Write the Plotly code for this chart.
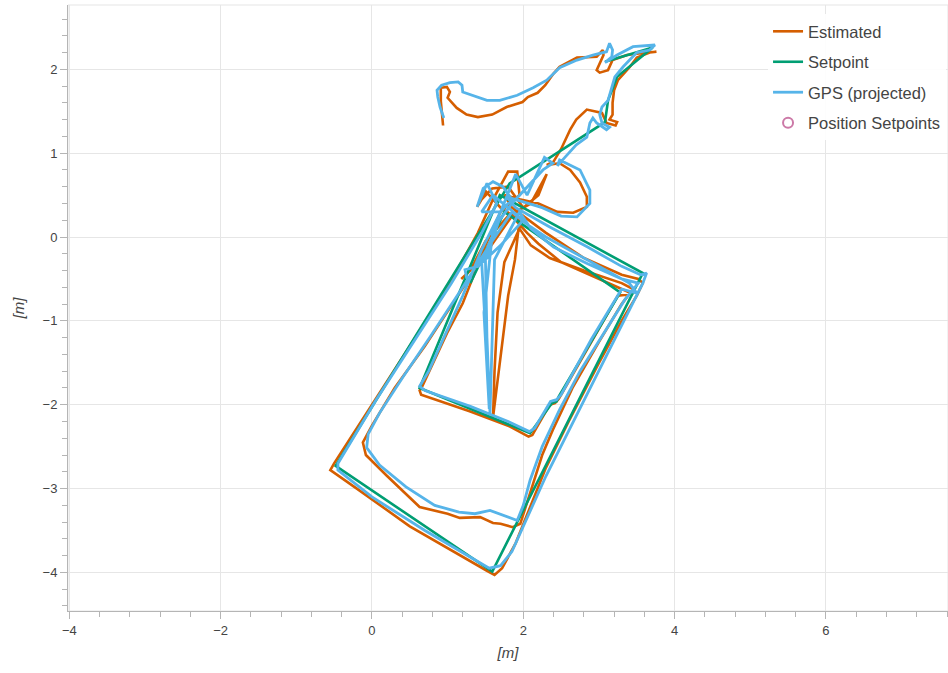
import plotly.graph_objects as go

# ---------------- data (metres) ----------------
est_x = [0.94, 0.93, 0.91, 0.91, 0.99, 1.03, 1.00, 1.12, 1.25, 1.40, 1.59, 1.78, 1.99, 2.06, 2.19, 2.29, 2.40, 2.48,
         2.71, 2.97, 3.05, 3.06, 3.01, 2.97, 3.01, 3.12, 3.18, 3.37, 3.63, 3.76, 3.67, 3.50, 3.41, 3.34, 3.25, 3.20,
         3.18, 3.18, 3.14, 3.24, 3.22, 3.10, 3.04, 2.84, 2.70, 2.62, 2.50, 2.40,
         2.31, 2.48, 2.62, 2.75, 2.84, 2.84, 2.66, 2.45, 2.20, 1.95, 1.75,
         1.85, 2.30, 2.80, 3.30, 3.52, 3.58, 3.50, 3.30, 3.00, 2.60, 2.30, 2.10, 1.90, 1.72, 1.62, 1.52, 0.50, -0.20,
         -0.55, -0.50, 0.00, 0.50, 1.00, 1.40, 1.60, 1.80, 1.92, 1.95,
         1.70, 1.50, 1.20, 0.99, 0.77, 0.66, 0.63, 0.65, 1.30, 1.80, 2.07, 2.12, 2.35, 2.42, 2.47, 2.90, 3.25, 3.45,
         3.30, 3.00, 2.50, 2.20, 2.05, 1.85,
         1.50, 1.10, 0.70, 0.30, 0.00, -0.12, -0.08, 0.20, 0.63, 1.00, 1.16, 1.43, 1.60, 1.70, 1.86, 1.96, 2.00, 2.13,
         2.25, 2.39, 2.65, 3.00, 3.30, 3.45, 3.30, 2.80, 2.35, 2.10, 1.95,
         1.75, 1.66, 1.62, 1.60, 1.70, 1.80, 1.89, 1.95,
         1.70, 1.50, 1.39, 1.45, 1.59, 1.80, 2.00, 2.20, 2.31, 2.10, 1.80, 1.50, 1.30, 1.18]
est_y = [1.33, 1.45, 1.62, 1.78, 1.79, 1.73, 1.66, 1.54, 1.46, 1.43, 1.46, 1.55, 1.61, 1.67, 1.72, 1.81, 1.95, 2.03,
         2.14, 2.15, 2.23, 2.17, 2.08, 1.99, 1.96, 1.99, 2.11, 2.17, 2.20, 2.21, 2.20, 2.14, 2.03, 1.96, 1.87, 1.75,
         1.60, 1.46, 1.40, 1.37, 1.33, 1.36, 1.48, 1.52, 1.40, 1.28, 1.05, 0.90,
         0.86, 0.88, 0.80, 0.65, 0.48, 0.36, 0.29, 0.30, 0.40, 0.45, 0.50,
         0.35, 0.05, -0.25, -0.45, -0.50, -0.55, -0.70, -1.00, -1.50, -2.20, -2.75, -3.20, -3.65, -3.95, -4.03, -3.98,
         -3.45, -3.00, -2.78, -2.70, -2.00, -1.30, -0.60, 0.05, 0.45, 0.78, 0.78, 0.50,
         0.30, -0.10, -0.79, -1.15, -1.59, -1.79, -1.83, -1.88, -2.08, -2.25, -2.38, -2.36, -2.00, -1.98, -1.93, -1.25,
         -0.70, -0.68, -0.62, -0.50, -0.30, -0.08, 0.05, 0.25,
         -0.20, -0.75, -1.30, -1.80, -2.25, -2.45, -2.60, -2.85, -3.22, -3.30, -3.35, -3.34, -3.41, -3.42, -3.46,
         -3.42, -3.30, -2.94, -2.60, -2.30, -1.80, -1.25, -0.80, -0.62, -0.55, -0.40, -0.25, -0.10, 0.10,
         -0.30, -0.90, -1.60, -2.15, -1.40, -0.70, -0.27, 0.20,
         0.35, 0.55, 0.36, 0.45, 0.58, 0.60, 0.35, 0.50, 0.75, 0.40, 0.25, -0.05, -0.40, -0.50]

sp_x = [3.08, 3.71, 3.24, 3.12, 3.08, 1.82, -0.48, 1.59, 3.58, 1.69, 0.63, 2.09, 2.38, 2.44, 2.47, 3.28, 1.75, 1.30]
sp_y = [2.09, 2.26, 1.91, 1.63, 1.37, 0.64, -2.73, -3.99, -0.43, 0.50, -1.80, -2.34, -1.98, -1.96, -1.90, -0.66,
        0.30, -0.55]

gps_x = [0.95, 0.90, 0.87, 0.86, 0.92, 1.03, 1.14, 1.19, 1.20, 1.33, 1.52, 1.69, 1.92, 2.13, 2.31, 2.48, 2.71, 2.92,
         3.10, 3.14, 3.18, 3.17, 3.10, 3.08, 3.24, 3.45, 3.74, 3.67, 3.50, 3.32, 3.21, 3.17, 3.12, 3.04, 3.01, 3.04,
         3.14, 3.10, 2.97, 2.92, 2.88, 2.84, 2.70, 2.55, 2.45,
         2.48, 2.75, 2.88, 2.88, 2.71, 2.50, 2.25, 2.00, 1.78,
         1.90, 2.35, 2.85, 3.30, 3.55, 3.63, 3.58, 3.30, 3.00, 2.60, 2.30, 2.05, 1.85, 1.70, 1.55, 0.70, 0.00, -0.45,
         -0.45, 0.05, 0.55, 1.05, 1.45, 1.65, 1.52, 1.43, 1.39, 1.47, 1.60, 1.73, 1.85,
         1.70, 1.45, 1.20, 0.95, 0.75, 0.63, 0.70, 1.30, 1.80, 2.08, 2.15, 2.36, 2.44, 2.50, 2.90, 3.30, 3.50, 3.40,
         3.20, 2.70, 2.30, 2.05, 1.85,
         1.55, 1.20, 0.77, 0.41, 0.10, -0.05, -0.07, 0.10, 0.45, 0.83, 1.15, 1.36, 1.56, 1.75, 1.92, 2.00, 2.09, 2.25,
         2.48, 2.75, 3.01, 3.34, 3.52, 3.30, 2.85, 2.40, 2.10, 1.95,
         1.62, 1.59, 1.56, 1.52, 1.50, 1.70, 1.45, 1.50, 1.55, 1.48, 1.60,
         1.85, 2.26, 2.39, 2.28, 2.05, 1.90, 1.70, 1.45, 1.60, 2.00, 1.70, 1.40, 1.23, 1.25, 1.32]
gps_y = [1.42, 1.55, 1.67, 1.75, 1.81, 1.84, 1.85, 1.81, 1.73, 1.69, 1.63, 1.63, 1.69, 1.78, 1.87, 2.02, 2.11, 2.17,
         2.21, 2.31, 2.23, 2.15, 2.09, 2.08, 2.17, 2.27, 2.29, 2.23, 2.20, 2.03, 1.91, 1.79, 1.63, 1.55, 1.46, 1.36,
         1.31, 1.28, 1.36, 1.42, 1.36, 1.19, 1.10, 0.95, 0.85,
         0.92, 0.80, 0.56, 0.40, 0.24, 0.25, 0.35, 0.42, 0.48,
         0.35, 0.12, -0.12, -0.35, -0.45, -0.43, -0.55, -1.05, -1.60, -2.30, -2.85, -3.35, -3.75, -3.92, -3.95, -3.50,
         -3.10, -2.78, -2.70, -1.95, -1.25, -0.55, 0.05, 0.40, 0.64, 0.44, 0.36, 0.58, 0.66, 0.60, 0.45,
         0.30, -0.15, -0.70, -1.20, -1.60, -1.78, -1.83, -2.02, -2.20, -2.32, -2.28, -1.96, -1.94, -1.88, -1.22,
         -0.62, -0.67, -0.55, -0.45, -0.20, 0.00, 0.15, 0.30,
         -0.10, -0.60, -1.19, -1.67, -2.10, -2.35, -2.51, -2.72, -2.98, -3.20, -3.28, -3.30, -3.26, -3.32, -3.38,
         -3.20, -2.90, -2.50, -2.06, -1.60, -1.23, -0.75, -0.55, -0.50, -0.32, -0.12, 0.10, 0.30,
         -0.27, -1.20, -2.10, -1.20, -0.27, 0.25, -0.30, -1.10, -2.05, -0.90, 0.10,
         0.40, 0.80, 0.88, 0.95, 0.50, 0.75, 0.30, 0.30, 0.50, 0.20, -0.10, -0.35, -0.39, -0.48, -0.48]

pos_sp_x = [None]
pos_sp_y = [None]

series_names = ["Estimated", "Setpoint", "GPS (projected)", "Position Setpoints"]
series_colors = ["#D55E00", "#009E73", "#56B4E9", "#CC79A7"]

x_range = [-4.017, 7.613]
y_range = [-4.46, 2.767]

FONT = "Liberation Sans, Arial, sans-serif"

# ---------------- figure ----------------
fig = go.Figure()
fig.add_trace(go.Scatter(x=est_x, y=est_y, mode="lines", name=series_names[0], legendgroup="a",
                         line=dict(color=series_colors[0], width=2.6)))
fig.add_trace(go.Scatter(x=sp_x, y=sp_y, mode="lines", name=series_names[1], legendgroup="b",
                         line=dict(color=series_colors[1], width=2.6)))
fig.add_trace(go.Scatter(x=gps_x, y=gps_y, mode="lines", name=series_names[2], legendgroup="c",
                         line=dict(color=series_colors[2], width=2.8)))
fig.add_trace(go.Scatter(x=pos_sp_x, y=pos_sp_y, mode="markers", name=series_names[3], legendgroup="d",
                         marker=dict(symbol="circle-open", size=10, color=series_colors[3],
                                     line=dict(width=2, color=series_colors[3]))))

axis_common = dict(
    showgrid=True, gridcolor="#e6e6e6", gridwidth=1, zeroline=False,
    showline=True, linecolor="#b5b5b5", linewidth=1,
    ticks="outside", ticklen=7, tickcolor="#b5b5b5",
    tickfont=dict(family=FONT, size=13, color="#444"),
    title_font=dict(family=FONT, size=15, color="#444"),
)

fig.update_xaxes(**axis_common, range=x_range, dtick=2, tick0=0,
                 minor=dict(dtick=0.4, tick0=0, ticks="outside", ticklen=5, tickcolor="#b5b5b5", showgrid=False),
                 title=dict(text="<i>[m]</i>", standoff=10))
fig.update_yaxes(**axis_common, range=y_range, dtick=1, tick0=0,
                 minor=dict(dtick=0.2, tick0=0, ticks="outside", ticklen=5, tickcolor="#b5b5b5", showgrid=False),
                 title=dict(text="<i>[m]</i>", standoff=14))

fig.add_shape(type="rect", xref="paper", yref="paper", x0=0, y0=0, x1=1, y1=1,
              line=dict(color="#e5e5e5", width=1), layer="below")

fig.update_layout(
    width=948, height=673,
    margin=dict(l=68, r=0, t=5, b=62),
    paper_bgcolor="white", plot_bgcolor="white",
    showlegend=True,
    legend=dict(x=0.7955, y=0.985, xanchor="left", yanchor="top",
                bgcolor="rgba(255,255,255,0.9)", borderwidth=0,
                font=dict(family=FONT, size=16.5, color="#444"),
                tracegroupgap=6, itemwidth=30),
    font=dict(family=FONT),
)

fig.write_html("out.html", config={"displayModeBar": False},
               post_script="document.body.style.margin='0px';")
